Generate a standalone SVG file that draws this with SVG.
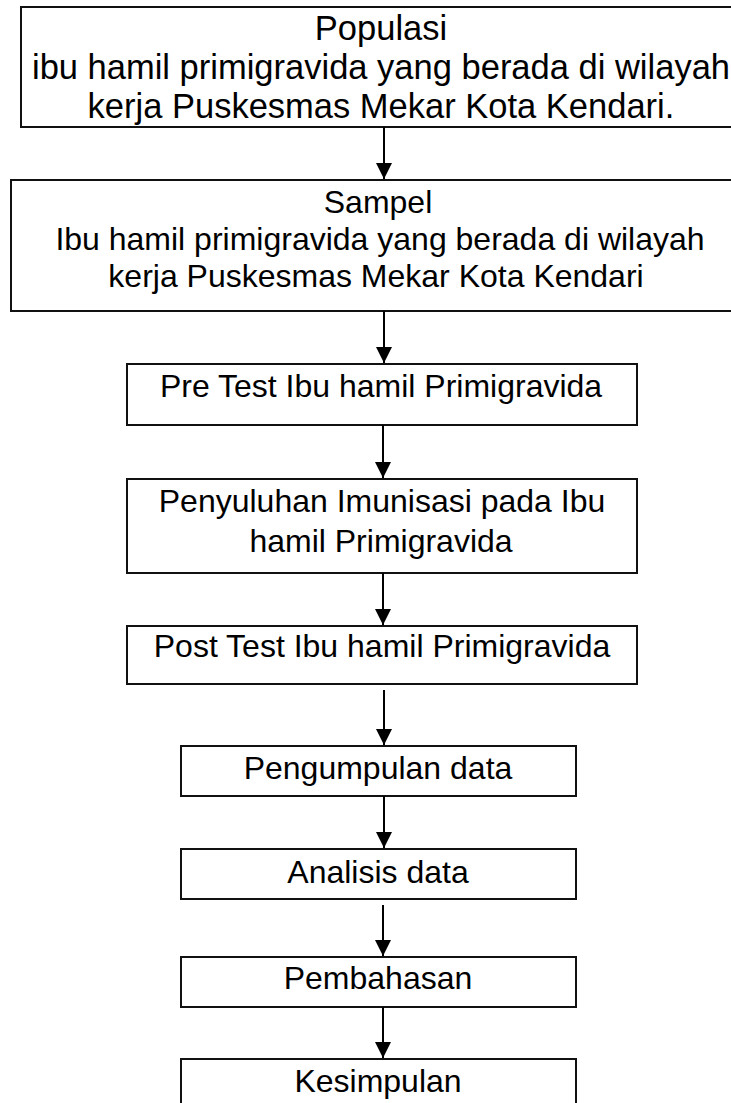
<svg xmlns="http://www.w3.org/2000/svg" width="731" height="1103" viewBox="0 0 731 1103">
<style>
.box{fill:#fff;stroke:#111;stroke-width:2}
.t{font-family:"Liberation Sans",Arial,sans-serif;font-size:32px;fill:#000;text-anchor:middle}
.big{font-size:34.5px}
.con{stroke:#000;stroke-width:2;fill:none}
</style>
<defs>
<marker id="ah" markerUnits="userSpaceOnUse" markerWidth="16" markerHeight="16" refX="16" refY="8" orient="auto">
<path d="M0,0 L16,8 L0,16 Z" fill="#000"/>
</marker>
</defs>
<rect width="731" height="1103" fill="#fff"/>
<g id="populasi">
<rect class="box" x="21" y="7" width="730" height="120"/>
<text class="t big" x="381" y="40">Populasi</text>
<text class="t big" x="381" y="79">ibu hamil primigravida yang berada di wilayah</text>
<text class="t big" x="381" y="118">kerja Puskesmas Mekar Kota Kendari.</text>
</g>
<g id="sampel">
<rect class="box" x="11" y="180" width="730" height="131"/>
<text class="t" x="378" y="213">Sampel</text>
<text class="t" x="380" y="250">Ibu hamil primigravida yang berada di wilayah</text>
<text class="t" x="376" y="287">kerja Puskesmas Mekar Kota Kendari</text>
</g>
<g id="pretest">
<rect class="box" x="127" y="364" width="510" height="61"/>
<text class="t" x="381" y="397">Pre Test Ibu hamil Primigravida</text>
</g>
<g id="penyuluhan">
<rect class="box" x="127" y="479" width="510" height="94"/>
<text class="t" x="382" y="512">Penyuluhan Imunisasi pada Ibu</text>
<text class="t" x="381" y="552">hamil Primigravida</text>
</g>
<g id="posttest">
<rect class="box" x="127" y="626" width="510" height="58"/>
<text class="t" x="382" y="657">Post Test Ibu hamil Primigravida</text>
</g>
<g id="pengumpulan">
<rect class="box" x="181" y="746" width="395" height="50"/>
<text class="t" x="378" y="779">Pengumpulan data</text>
</g>
<g id="analisis">
<rect class="box" x="181" y="849" width="395" height="50"/>
<text class="t" x="378" y="883">Analisis data</text>
</g>
<g id="pembahasan">
<rect class="box" x="181" y="957" width="395" height="50"/>
<text class="t" x="378" y="989">Pembahasan</text>
</g>
<g id="kesimpulan">
<rect class="box" x="181" y="1059" width="395" height="60"/>
<text class="t" x="378" y="1092">Kesimpulan</text>
</g>
<g id="connectors">
<line class="con" x1="384" y1="127" x2="384" y2="179" marker-end="url(#ah)"/>
<line class="con" x1="384" y1="311" x2="384" y2="363" marker-end="url(#ah)"/>
<line class="con" x1="383" y1="425" x2="383" y2="478" marker-end="url(#ah)"/>
<line class="con" x1="383" y1="573" x2="383" y2="625" marker-end="url(#ah)"/>
<line class="con" x1="384" y1="690" x2="384" y2="745" marker-end="url(#ah)"/>
<line class="con" x1="384" y1="796" x2="384" y2="848" marker-end="url(#ah)"/>
<line class="con" x1="383" y1="905" x2="383" y2="956" marker-end="url(#ah)"/>
<line class="con" x1="383" y1="1007" x2="383" y2="1058" marker-end="url(#ah)"/>
</g>
</svg>
